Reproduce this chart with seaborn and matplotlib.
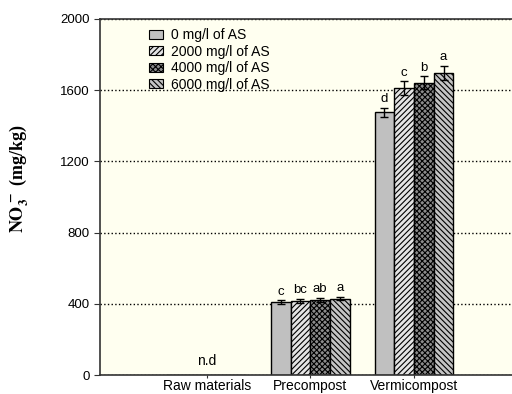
import pandas as pd
import matplotlib
matplotlib.use("Agg")
import matplotlib.pyplot as plt
import seaborn as sns

# values (mg/kg)
stages = ["Raw materials", "Precompost", "Vermicompost"]
doses = ["0 mg/l of AS", "2000 mg/l of AS", "4000 mg/l of AS", "6000 mg/l of AS"]
no3_0 = [0, 410, 1475]
no3_2000 = [0, 418, 1612]
no3_4000 = [0, 422, 1642]
no3_6000 = [0, 430, 1697]
err_0 = [0, 10, 25]
err_2000 = [0, 12, 37]
err_4000 = [0, 10, 35]
err_6000 = [0, 10, 40]
letters_0 = ["", "c", "d"]
letters_2000 = ["", "bc", "c"]
letters_4000 = ["", "ab", "b"]
letters_6000 = ["", "a", "a"]

values = [no3_0, no3_2000, no3_4000, no3_6000]
errors = [err_0, err_2000, err_4000, err_6000]
letters = [letters_0, letters_2000, letters_4000, letters_6000]

rows = []
for dose, vals in zip(doses, values):
    for st, v in zip(stages, vals):
        rows.append({"stage": st, "dose": dose, "no3": v})
df = pd.DataFrame(rows)

sns.set_style("ticks")
plt.rcParams["font.family"] = ["Liberation Sans", "DejaVu Sans"]
plt.rcParams["hatch.linewidth"] = 0.8
plt.rcParams["mathtext.fontset"] = "stix"
plt.rcParams["text.color"] = "black"
plt.rcParams["axes.labelcolor"] = "black"
plt.rcParams["xtick.labelcolor"] = "black"
plt.rcParams["ytick.labelcolor"] = "black"

fig = plt.figure(figsize=(5.12, 3.94), dpi=100)
ax = fig.add_axes([0.195, 0.048, 0.81, 0.904])
ax.set_facecolor("#fffff0")

colors = ["#c0c0c0", "#e4e4e4", "#8c8c8c", "#c4c4c4"]
hatches = ["", "//////", "xxxxxx", "\\\\\\\\\\\\"]

sns.barplot(data=df, x="stage", y="no3", hue="dose", palette=colors,
            saturation=1, edgecolor="black", linewidth=1, width=0.76,
            errorbar=None, ax=ax)

for cont, hatch, err, labs in zip(ax.containers, hatches, errors, letters):
    xs, hs = [], []
    for bar in cont:
        bar.set_hatch(hatch)
        xs.append(bar.get_x() + bar.get_width() / 2)
        hs.append(bar.get_height())
    ax.errorbar(xs[1:], hs[1:], yerr=err[1:], fmt="none", ecolor="black",
                elinewidth=1, capsize=3, capthick=1, zorder=5)
    for x, h, e, lab in zip(xs, hs, err, labs):
        if lab:
            ax.annotate(lab, (x, h + e), xytext=(0, 2), textcoords="offset points",
                        ha="center", va="bottom", fontsize=9.5)

ax.text(0, 40, "n.d", ha="center", va="bottom", fontsize=10)

ax.set_xlim(-1.03, 2.97)
ax.set_ylim(0, 2000)
ax.set_yticks([0, 400, 800, 1200, 1600, 2000])
ax.yaxis.grid(True, linestyle=":", color="black", linewidth=1)
ax.set_axisbelow(True)
ax.tick_params(axis="y", labelsize=9.5, length=4, width=0.8, color="#333333")
ax.tick_params(axis="x", labelsize=10, length=2, pad=1, width=0.8, color="#333333")
ax.set_xlabel("")
ax.set_ylabel(r"$\mathbf{NO_3^{\,-}}$ (mg/kg)", fontsize=13, fontweight="bold",
              family=["Liberation Serif"])
ax.yaxis.set_label_coords(-0.165, 0.55)

for side in ["left", "top", "bottom"]:
    ax.spines[side].set_color("#333333")
    ax.spines[side].set_linewidth(1.2)
ax.spines["right"].set_visible(False)

leg = ax.legend(loc="upper left", bbox_to_anchor=(0.105, 0.99), frameon=False,
                fontsize=10, handlelength=1.0, handleheight=0.6,
                labelspacing=0.18, handletextpad=0.6, borderaxespad=0)
for h, hatch, c in zip(leg.legend_handles, hatches, colors):
    h.set_hatch(hatch)
    h.set_edgecolor("black")
    h.set_facecolor(c)
    h.set_linewidth(0.8)

fig.savefig("out.png", dpi=100)
